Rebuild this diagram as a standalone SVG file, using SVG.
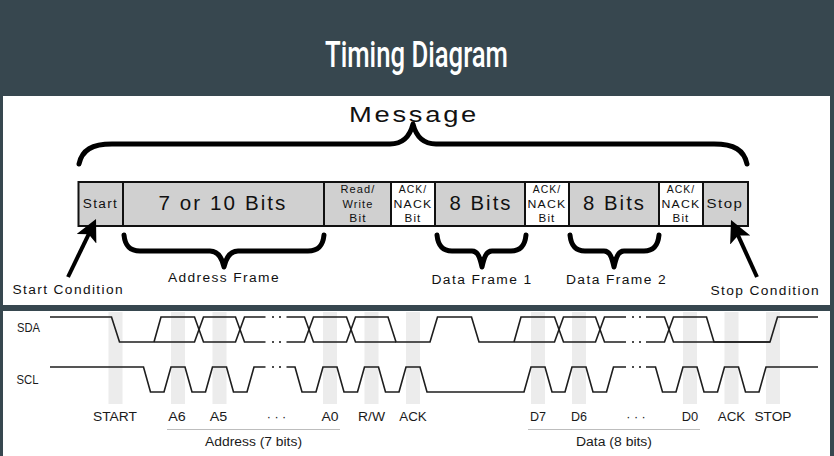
<svg xmlns="http://www.w3.org/2000/svg" width="834" height="456" viewBox="0 0 834 456">
<style>
.t{font-family:"Liberation Sans",Arial,sans-serif;fill:#111;letter-spacing:0.1em}
.box{stroke:#111;stroke-width:2}
.g{fill:#d0d0d0}
.w{fill:#fff}
.brace{fill:none;stroke:#000;stroke-width:5;stroke-linecap:round;stroke-linejoin:round}
.sig{fill:none;stroke:#1e1e1e;stroke-width:1.6;stroke-linejoin:miter}
.bar{fill:#ececec}
.dot{fill:#1e1e1e}
.lbl{font-family:"Liberation Sans",Arial,sans-serif;font-size:12.5px;fill:#1a1a1a;text-anchor:middle}
</style>
<defs>
<marker id="ah" viewBox="0 -11 22 22" refX="10" refY="0" markerWidth="22" markerHeight="22" markerUnits="userSpaceOnUse" orient="auto">
<path d="M0,-11 L22,0 L0,11 L5,0 Z" fill="#000"/>
</marker>
</defs>
<rect width="834" height="456" fill="#37474f"/>
<text x="416.5" y="66.5" font-family="Roboto,'Liberation Sans',sans-serif" font-size="37" font-weight="500" fill="#fff" text-anchor="middle" textLength="183" lengthAdjust="spacingAndGlyphs">Timing Diagram</text>
<rect x="3" y="96" width="827" height="209" fill="#fff"/>
<rect x="3" y="311" width="827" height="145" fill="#fff"/>

<g id="message">
<text class="t" x="349" y="122" font-size="22" textLength="130" lengthAdjust="spacingAndGlyphs">Message</text>
<path class="brace" d="M79,164 C82,150 92,144 112,144 L390,144 C403,144 410,136 413,124 C416,136 423,144 436,144 L714,144 C734,144 744,150 747,164"/>
</g>

<g id="frame">
<g id="f-start"><rect class="box g" x="78.5" y="182" width="44.5" height="44"/><text class="t" x="100.5" y="207.7" font-size="12" text-anchor="middle" textLength="35.5" lengthAdjust="spacingAndGlyphs">Start</text></g>
<g id="f-addr"><rect class="box g" x="123" y="182" width="201" height="44"/><text class="t" x="223" y="210" font-size="20" text-anchor="middle" textLength="129" lengthAdjust="spacingAndGlyphs">7 or 10 Bits</text></g>
<g id="f-rw"><rect class="box g" x="324" y="182" width="67" height="44"/>
<text class="t" x="358" y="193.3" font-size="10.5" text-anchor="middle" textLength="35" lengthAdjust="spacingAndGlyphs">Read/</text>
<text class="t" x="358" y="207.7" font-size="10.5" text-anchor="middle" textLength="31" lengthAdjust="spacingAndGlyphs">Write</text>
<text class="t" x="358" y="221.7" font-size="10.5" text-anchor="middle" textLength="17.5" lengthAdjust="spacingAndGlyphs">Bit</text></g>
<g id="f-ack1"><rect class="box w" x="391" y="182" width="44" height="44"/>
<text class="t" x="413" y="193.3" font-size="10.5" text-anchor="middle" textLength="28.5" lengthAdjust="spacingAndGlyphs">ACK/</text>
<text class="t" x="413" y="207.7" font-size="10.5" text-anchor="middle" textLength="39" lengthAdjust="spacingAndGlyphs">NACK</text>
<text class="t" x="413" y="221.7" font-size="10.5" text-anchor="middle" textLength="17" lengthAdjust="spacingAndGlyphs">Bit</text></g>
<g id="f-data1"><rect class="box g" x="435" y="182" width="90" height="44"/><text class="t" x="481" y="210" font-size="20" text-anchor="middle" textLength="63" lengthAdjust="spacingAndGlyphs">8 Bits</text></g>
<g id="f-ack2"><rect class="box w" x="525" y="182" width="44" height="44"/>
<text class="t" x="547" y="193.3" font-size="10.5" text-anchor="middle" textLength="28.5" lengthAdjust="spacingAndGlyphs">ACK/</text>
<text class="t" x="547" y="207.7" font-size="10.5" text-anchor="middle" textLength="39" lengthAdjust="spacingAndGlyphs">NACK</text>
<text class="t" x="547" y="221.7" font-size="10.5" text-anchor="middle" textLength="17" lengthAdjust="spacingAndGlyphs">Bit</text></g>
<g id="f-data2"><rect class="box g" x="569" y="182" width="90" height="44"/><text class="t" x="614.5" y="210" font-size="20" text-anchor="middle" textLength="63" lengthAdjust="spacingAndGlyphs">8 Bits</text></g>
<g id="f-ack3"><rect class="box w" x="659" y="182" width="44" height="44"/>
<text class="t" x="681" y="193.3" font-size="10.5" text-anchor="middle" textLength="28.5" lengthAdjust="spacingAndGlyphs">ACK/</text>
<text class="t" x="681" y="207.7" font-size="10.5" text-anchor="middle" textLength="39" lengthAdjust="spacingAndGlyphs">NACK</text>
<text class="t" x="681" y="221.7" font-size="10.5" text-anchor="middle" textLength="17" lengthAdjust="spacingAndGlyphs">Bit</text></g>
<g id="f-stop"><rect class="box g" x="703" y="182" width="45" height="44"/><text class="t" x="725" y="207.7" font-size="12" text-anchor="middle" textLength="37" lengthAdjust="spacingAndGlyphs">Stop</text></g>
</g>

<g id="address-frame">
<path class="brace" stroke-width="4.5" d="M124,235 C125,245 129,251 140,251 L210,251 C218,251 222,258 224,267 C226,258 230,251 238,251 L308,251 C319,251 323,245 324,235"/>
<text class="t" x="224" y="282.3" font-size="12" text-anchor="middle" textLength="112" lengthAdjust="spacingAndGlyphs">Address Frame</text>
</g>
<g id="data-frame-1">
<path class="brace" stroke-width="4.5" d="M437,235 C438,245 442,251 452,251 L472,251 C478,251 480,258 482,267 C484,258 486,251 492,251 L511,251 C521,251 525,245 526,235"/>
<text class="t" x="482" y="284.3" font-size="12" text-anchor="middle" textLength="101" lengthAdjust="spacingAndGlyphs">Data Frame 1</text>
</g>
<g id="data-frame-2">
<path class="brace" stroke-width="4.5" d="M570,235 C571,245 575,251 585,251 L604,251 C610,251 612,258 614,267 C616,258 618,251 624,251 L644,251 C654,251 658,245 659,235"/>
<text class="t" x="616.5" y="284.3" font-size="12" text-anchor="middle" textLength="101" lengthAdjust="spacingAndGlyphs">Data Frame 2</text>
</g>

<g id="start-condition">
<text class="t" x="12.5" y="294.3" font-size="12" textLength="111.5" lengthAdjust="spacingAndGlyphs">Start Condition</text>
</g>
<g id="stop-condition">
<text class="t" x="710.5" y="295" font-size="12" textLength="109.5" lengthAdjust="spacingAndGlyphs">Stop Condition</text>
</g>
<g id="connectors">
<line x1="68" y1="277" x2="90.8" y2="229.8" stroke="#000" stroke-width="4" marker-end="url(#ah)"/>
<line x1="757" y1="277" x2="736" y2="230.9" stroke="#000" stroke-width="4" marker-end="url(#ah)"/>
</g>

<g id="timing">
<g id="bars">
<rect class="bar" x="108.5" y="312" width="14" height="92"/>
<rect class="bar" x="171" y="312" width="14" height="92"/>
<rect class="bar" x="212.5" y="312" width="14" height="92"/>
<rect class="bar" x="323" y="312" width="14" height="92"/>
<rect class="bar" x="364.5" y="312" width="14" height="92"/>
<rect class="bar" x="406" y="312" width="14" height="92"/>
<rect class="bar" x="531" y="312" width="14" height="92"/>
<rect class="bar" x="572" y="312" width="14" height="92"/>
<rect class="bar" x="683" y="312" width="14" height="92"/>
<rect class="bar" x="724.5" y="312" width="14" height="92"/>
<rect class="bar" x="766" y="312" width="14" height="92"/>
</g>
<g id="sda">
<text class="lbl" x="28.5" y="332" textLength="23" lengthAdjust="spacingAndGlyphs">SDA</text>
<path class="sig" d="M50,317 H111.5 L119.5,342 H194.5 L203.5,317 H235.5 L244.5,342 H265.5"/>
<path class="sig" d="M154,342 L161,317 H194.5 L203.5,342 H235.5 L244.5,317 H265.5"/>
<path class="sig" d="M286.5,317 H304.5 L313.5,342 H346.5 L355.5,317 H388 L396,342 H430 L437.5,317 H471.5 L479,342 H554.5 L563.5,317 H595.5 L604.5,342 H626"/>
<path class="sig" d="M286.5,342 H304.5 L313.5,317 H346.5 L355.5,342 H396"/>
<path class="sig" d="M514,342 L521,317 H554.5 L563.5,342 H595.5 L604.5,317 H626"/>
<path class="sig" d="M646,317 H664.5 L673.5,342 H770 L777.5,317 H818"/>
<path class="sig" d="M646,342 H664.5 L673.5,317 H706.5 L714,342 H770"/>
<g class="dot">
<rect x="272" y="316.2" width="2" height="1.6"/><rect x="279" y="316.2" width="2" height="1.6"/>
<rect x="272" y="341.2" width="2" height="1.6"/><rect x="279" y="341.2" width="2" height="1.6"/>
<rect x="632" y="316.2" width="2" height="1.6"/><rect x="639" y="316.2" width="2" height="1.6"/>
<rect x="632" y="341.2" width="2" height="1.6"/><rect x="639" y="341.2" width="2" height="1.6"/>
</g>
</g>
<g id="scl">
<text class="lbl" x="27.5" y="384" textLength="22" lengthAdjust="spacingAndGlyphs">SCL</text>
<path class="sig" d="M50,367 H143.5 L150.5,392 H164 L171,367 H185 L192,392 H205.5 L212.5,367 H226.5 L233.5,392 H247 L254,367 H265.5"/>
<path class="sig" d="M286.5,367 H295 L302,392 H316 L323,367 H337 L344,392 H357.5 L364.5,367 H378.5 L385.5,392 H399 L406,367 H420 L427,392 H524 L531,367 H545 L552,392 H565 L572,367 H586 L593,392 H606.5 L613.5,367 H626"/>
<path class="sig" d="M646,367 H655.5 L662.5,392 H676 L683,367 H697 L704,392 H717.5 L724.5,367 H738.5 L745.5,392 H759 L766,367 H818"/>
<g class="dot">
<rect x="272" y="366.2" width="2" height="1.6"/><rect x="279" y="366.2" width="2" height="1.6"/>
<rect x="632" y="366.2" width="2" height="1.6"/><rect x="639" y="366.2" width="2" height="1.6"/>
</g>
</g>
<g id="bit-labels">
<text class="lbl" x="115" y="420.5" textLength="44" lengthAdjust="spacingAndGlyphs">START</text>
<text class="lbl" x="177" y="420.5" textLength="17.5" lengthAdjust="spacingAndGlyphs">A6</text>
<text class="lbl" x="218.5" y="420.5" textLength="17.5" lengthAdjust="spacingAndGlyphs">A5</text>
<text class="lbl" x="276.5" y="420.5">· · ·</text>
<text class="lbl" x="330" y="420.5" textLength="17" lengthAdjust="spacingAndGlyphs">A0</text>
<text class="lbl" x="371.5" y="420.5" textLength="27" lengthAdjust="spacingAndGlyphs">R/W</text>
<text class="lbl" x="413" y="420.5" textLength="27.5" lengthAdjust="spacingAndGlyphs">ACK</text>
<text class="lbl" x="538" y="420.5" textLength="16" lengthAdjust="spacingAndGlyphs">D7</text>
<text class="lbl" x="579" y="420.5" textLength="16" lengthAdjust="spacingAndGlyphs">D6</text>
<text class="lbl" x="636" y="420.5">· · ·</text>
<text class="lbl" x="690" y="420.5" textLength="16.5" lengthAdjust="spacingAndGlyphs">D0</text>
<text class="lbl" x="731.5" y="420.5" textLength="27.5" lengthAdjust="spacingAndGlyphs">ACK</text>
<text class="lbl" x="773" y="420.5" textLength="37" lengthAdjust="spacingAndGlyphs">STOP</text>
</g>
<g id="groups">
<line x1="167" y1="429.5" x2="340" y2="429.5" stroke="#bdbdbd" stroke-width="1"/>
<text class="lbl" x="253.5" y="446" textLength="97" lengthAdjust="spacingAndGlyphs">Address (7 bits)</text>
<line x1="528" y1="429.5" x2="700" y2="429.5" stroke="#bdbdbd" stroke-width="1"/>
<text class="lbl" x="614" y="446" textLength="76" lengthAdjust="spacingAndGlyphs">Data (8 bits)</text>
</g>
</g>
</svg>
